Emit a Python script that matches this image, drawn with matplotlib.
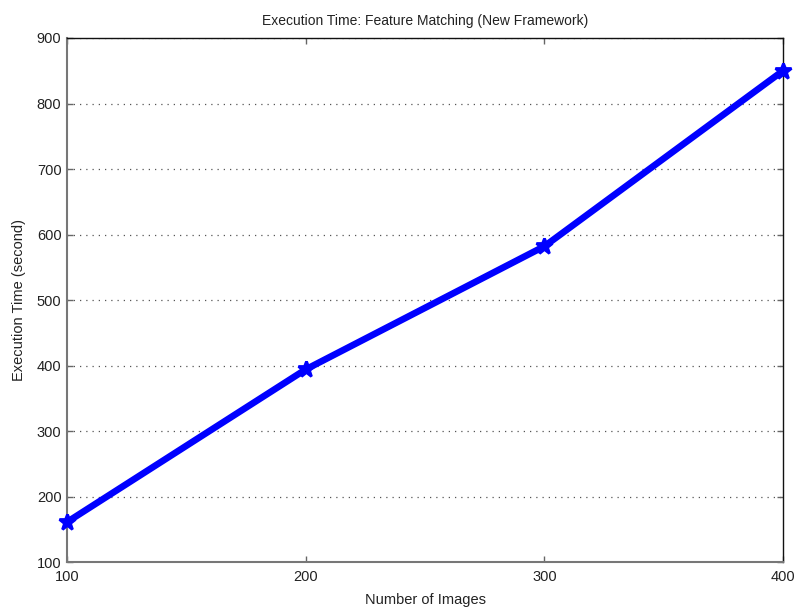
import matplotlib
matplotlib.use("Agg")
import matplotlib.pyplot as plt

plt.rcParams['font.family'] = ['Liberation Sans', 'DejaVu Sans']

num_images = [100, 200, 300, 400]
exec_time = [161, 394, 582, 850]
y_ticks = [100, 200, 300, 400, 500, 600, 700, 800, 900]

fig = plt.figure(figsize=(7.99, 6.07), dpi=100)
ax = fig.add_axes([0.0839, 0.0741, 0.8961, 0.8633])

# thick blue line with star markers, MATLAB style
ax.plot(num_images, exec_time, color='#0000ff', linewidth=4.8,
        marker='*', markersize=12, markeredgewidth=2, clip_on=False, zorder=3)

ax.set_xlim(100, 400)
ax.set_ylim(100, 900)
ax.set_xticks(num_images)
ax.set_yticks(y_ticks)
ax.yaxis.grid(True, linestyle=(0, (1, 4)), color='#555555', linewidth=0.9)

for side in ['left', 'bottom']:
    ax.spines[side].set_color('#777777')
    ax.spines[side].set_linewidth(1.5)
for side in ['top', 'right']:
    ax.spines[side].set_color('#111111')
    ax.spines[side].set_linewidth(1.0)

ax.tick_params(direction='in', length=4, width=1.0, color='#666666',
               top=True, right=True, labelsize=10.5, labelcolor='#222222')
ax.tick_params(axis='x', pad=6)
ax.tick_params(axis='y', pad=4)

ax.set_title('Execution Time: Feature Matching (New Framework)', fontsize=10, color='#222222', pad=9)
ax.set_xlabel('Number of Images', fontsize=10.5, color='#222222', labelpad=6)
ax.set_ylabel('Execution Time (second)', fontsize=10.5, color='#222222', labelpad=8)

fig.savefig('out.png', dpi=100)
